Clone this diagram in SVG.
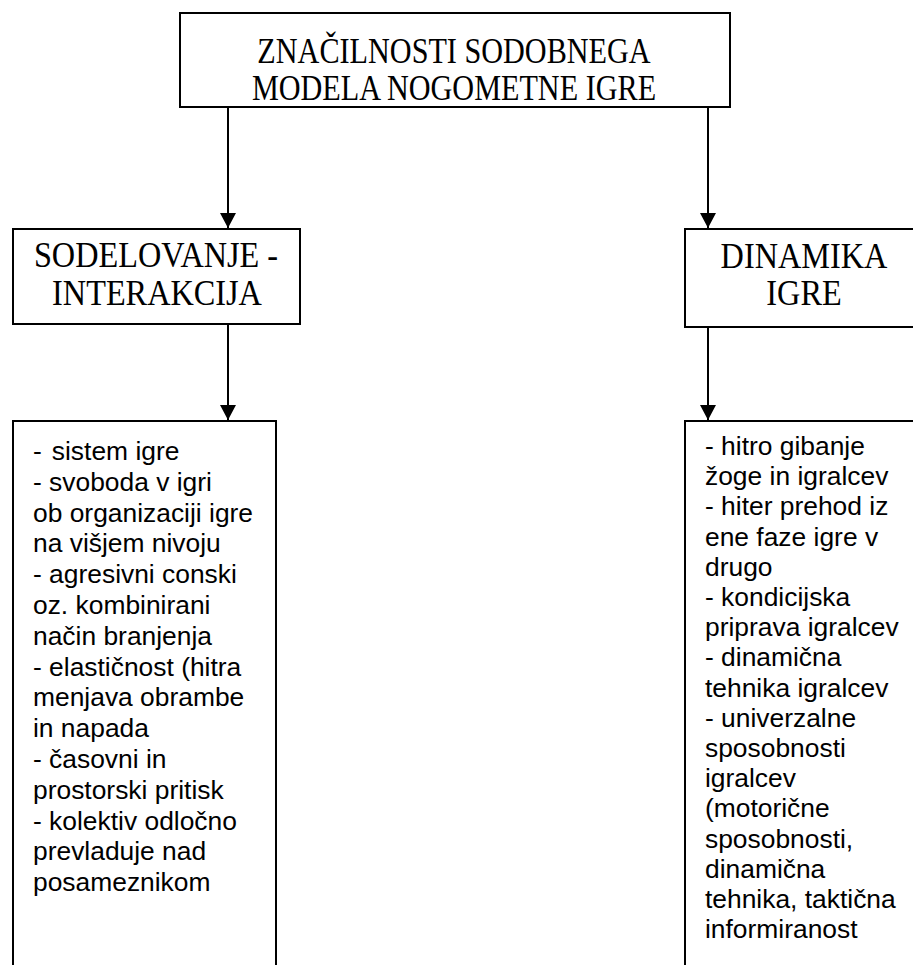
<svg xmlns="http://www.w3.org/2000/svg" width="913" height="965" viewBox="0 0 913 965">
<style>
.box{fill:#fff;stroke:#000;stroke-width:2}
.conn{stroke:#000;stroke-width:2;fill:none}
.hd{font-family:"Liberation Serif","Times New Roman",serif;font-size:32.3px;fill:#000;text-anchor:middle}
.ttl{font-size:30.2px}
.bd{font-family:"Liberation Sans",Arial,sans-serif;font-size:26.4px;fill:#000}
</style>
<defs>
<marker id="arr" viewBox="0 0 15 16" refX="15" refY="8" markerWidth="15" markerHeight="16" markerUnits="userSpaceOnUse" orient="auto">
<path d="M0,0 L15,8 L0,16 z" fill="#000"/>
</marker>
</defs>
<rect width="913" height="965" fill="#fff"/>
<g id="connectors">
<line class="conn" x1="228" y1="107" x2="228" y2="228" marker-end="url(#arr)"/>
<line class="conn" x1="708" y1="107" x2="708" y2="228" marker-end="url(#arr)"/>
<line class="conn" x1="228" y1="324" x2="228" y2="420" marker-end="url(#arr)"/>
<line class="conn" x1="708" y1="322" x2="708" y2="420" marker-end="url(#arr)"/>
</g>
<g id="root">
<rect class="box" x="180" y="13" width="550" height="94"/>
<text class="hd ttl" transform="translate(454,63) scale(1,1.2)">ZNAČILNOSTI SODOBNEGA</text>
<text class="hd ttl" transform="translate(454,100) scale(1,1.2)">MODELA NOGOMETNE IGRE</text>
</g>
<g id="sodelovanje">
<rect class="box" x="13" y="229" width="287" height="95"/>
<text class="hd" transform="translate(156,267) scale(1,1.1)">SODELOVANJE -</text>
<text class="hd" transform="translate(157,305) scale(1,1.1)">INTERAKCIJA</text>
</g>
<g id="dinamika">
<rect class="box" x="685" y="229" width="300" height="98"/>
<text class="hd" transform="translate(804,268) scale(1,1.1)">DINAMIKA</text>
<text class="hd" transform="translate(804,305) scale(1,1.1)">IGRE</text>
</g>
<g id="sodelovanje-list">
<rect class="box" x="13" y="421" width="263" height="600"/>
<text class="bd">
<tspan x="33" y="460">-</tspan><tspan dx="10">sistem igre</tspan>
<tspan x="33" y="490.8">- svoboda v igri</tspan>
<tspan x="33" y="521.6">ob organizaciji igre</tspan>
<tspan x="33" y="552.4">na višjem nivoju</tspan>
<tspan x="33" y="583.2">- agresivni conski</tspan>
<tspan x="33" y="614">oz. kombinirani</tspan>
<tspan x="33" y="644.8">način branjenja</tspan>
<tspan x="33" y="675.6">- elastičnost (hitra</tspan>
<tspan x="33" y="706.4">menjava obrambe</tspan>
<tspan x="33" y="737.2">in napada</tspan>
<tspan x="33" y="768">- časovni in</tspan>
<tspan x="33" y="798.8">prostorski pritisk</tspan>
<tspan x="33" y="829.6">- kolektiv odločno</tspan>
<tspan x="33" y="860.4">prevladuje nad</tspan>
<tspan x="33" y="891.2">posameznikom</tspan>
</text>
</g>
<g id="dinamika-list">
<rect class="box" x="685" y="421" width="300" height="600"/>
<text class="bd">
<tspan x="705" y="455">- hitro gibanje</tspan>
<tspan x="705" y="485.2">žoge in igralcev</tspan>
<tspan x="705" y="515.4">- hiter prehod iz</tspan>
<tspan x="705" y="545.6">ene faze igre v</tspan>
<tspan x="705" y="575.8">drugo</tspan>
<tspan x="705" y="606">- kondicijska</tspan>
<tspan x="705" y="636.2">priprava igralcev</tspan>
<tspan x="705" y="666.4">- dinamična</tspan>
<tspan x="705" y="696.6">tehnika igralcev</tspan>
<tspan x="705" y="726.8">- univerzalne</tspan>
<tspan x="705" y="757">sposobnosti</tspan>
<tspan x="705" y="787.2">igralcev</tspan>
<tspan x="705" y="817.4">(motorične</tspan>
<tspan x="705" y="847.6">sposobnosti,</tspan>
<tspan x="705" y="877.8">dinamična</tspan>
<tspan x="705" y="908">tehnika, taktična</tspan>
<tspan x="705" y="938.2">informiranost</tspan>
</text>
</g>
</svg>
